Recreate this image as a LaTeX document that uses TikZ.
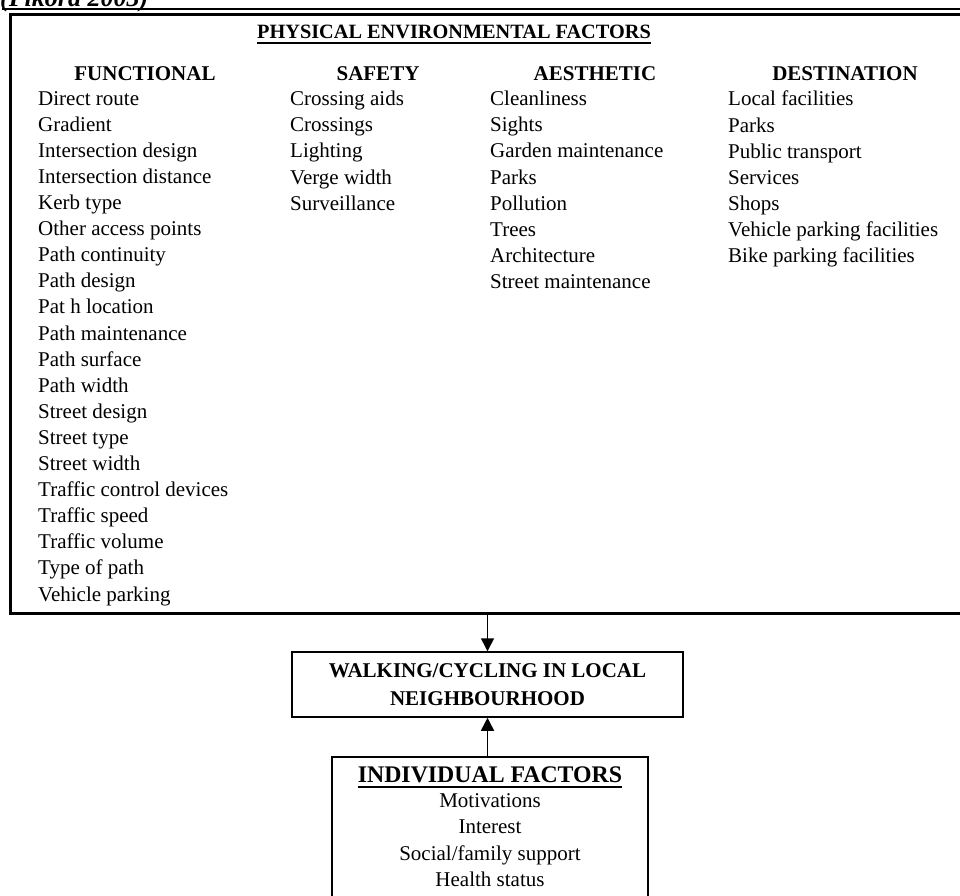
\documentclass[tikz,border=0pt]{standalone}
\usepackage{fontspec}
\setmainfont{Liberation Serif}
\usetikzlibrary{positioning, arrows.meta, calc}

\tikzset{
  factorlist/.style={font=\fontsize{21}{26.1}\selectfont, align=left, inner sep=0pt, anchor=north west},
  heading/.style={font=\fontsize{21}{26}\selectfont\bfseries, inner sep=0pt, anchor=base},
  flowbox/.style={draw, line width=1.5pt, inner sep=0pt},
  flowarrow/.style={line width=1.5pt, -{Triangle[width=13pt,length=13pt]}}
}

\begin{document}
\begin{tikzpicture}[x=1pt, y=-1pt]
		\useasboundingbox (0,0) rectangle (960,895);
		%% source line, cut off at the top of the page
		\node[font=\fontsize{26}{30}\selectfont\bfseries\itshape, anchor=base west, inner sep=0pt] (source) at (0,6) {(Pikora 2003)};
		\draw [line width=2pt] (2,9) -- (965,9);
		%% physical environmental factors
		\node[draw, line width=2.5pt, anchor=north west, minimum width=980pt, minimum height=599pt, inner sep=0pt] (phys) at (9,13) {};
		\node[heading, font=\fontsize{20.3}{26}\selectfont\bfseries] (title) at (454,38) {PHYSICAL ENVIRONMENTAL FACTORS};
		\draw [line width=1.5pt] ([yshift=-5pt]title.base west) -- ([yshift=-5pt]title.base east);
		
		\node[heading] (functional) at (145,80) {FUNCTIONAL};
		\node[heading] (safety) at (378,80) {SAFETY};
		\node[heading] (aesthetic) at (595,80) {AESTHETIC};
		\node[heading] (destination) at (845,80) {DESTINATION};
		
		\node[factorlist] (functionallist) at (38,91) {Direct route\\Gradient\\Intersection design\\Intersection distance\\Kerb type\\Other access points\\Path continuity\\Path design\\Pat h location\\Path maintenance\\Path surface\\Path width\\Street design\\Street type\\Street width\\Traffic control devices\\Traffic speed\\Traffic volume\\Type of path\\Vehicle parking};
		\node[factorlist] (safetylist) at (290,91) {Crossing aids\\Crossings\\Lighting\\Verge width\\Surveillance};
		\node[factorlist] (aestheticlist) at (490,91) {Cleanliness\\Sights\\Garden maintenance\\Parks\\Pollution\\Trees\\Architecture\\Street maintenance};
		\node[factorlist] (destinationlist) at (728,91) {Local facilities\\Parks\\Public transport\\Services\\Shops\\Vehicle parking facilities\\Bike parking facilities};
		
		%% behaviour
		\node[flowbox, minimum width=391pt, minimum height=65pt, align=center, font=\fontsize{21}{28}\selectfont\bfseries] (walk) at (487.5,684.5) {WALKING/CYCLING IN LOCAL\\NEIGHBOURHOOD};
		
		%% individual factors, running off the bottom
		\node[flowbox, anchor=north, minimum width=316pt, minimum height=170pt] (indiv) at (490,756) {};
		\node[heading, font=\fontsize{23.8}{28}\selectfont\bfseries] (indivtitle) at (490,782) {INDIVIDUAL FACTORS};
		\draw [line width=1.5pt] ([yshift=-5pt]indivtitle.base west) -- ([yshift=-5pt]indivtitle.base east);
		\node[font=\fontsize{21}{26.5}\selectfont, align=center, inner sep=0pt, anchor=north] (indivlist) at (490,793) {Motivations\\Interest\\Social/family support\\Health status};
		
		\draw [flowarrow] (phys.south -| walk.north) -- (walk.north);
		\draw [flowarrow] (indiv.north -| walk.south) -- (walk.south);
\end{tikzpicture}
\end{document}
